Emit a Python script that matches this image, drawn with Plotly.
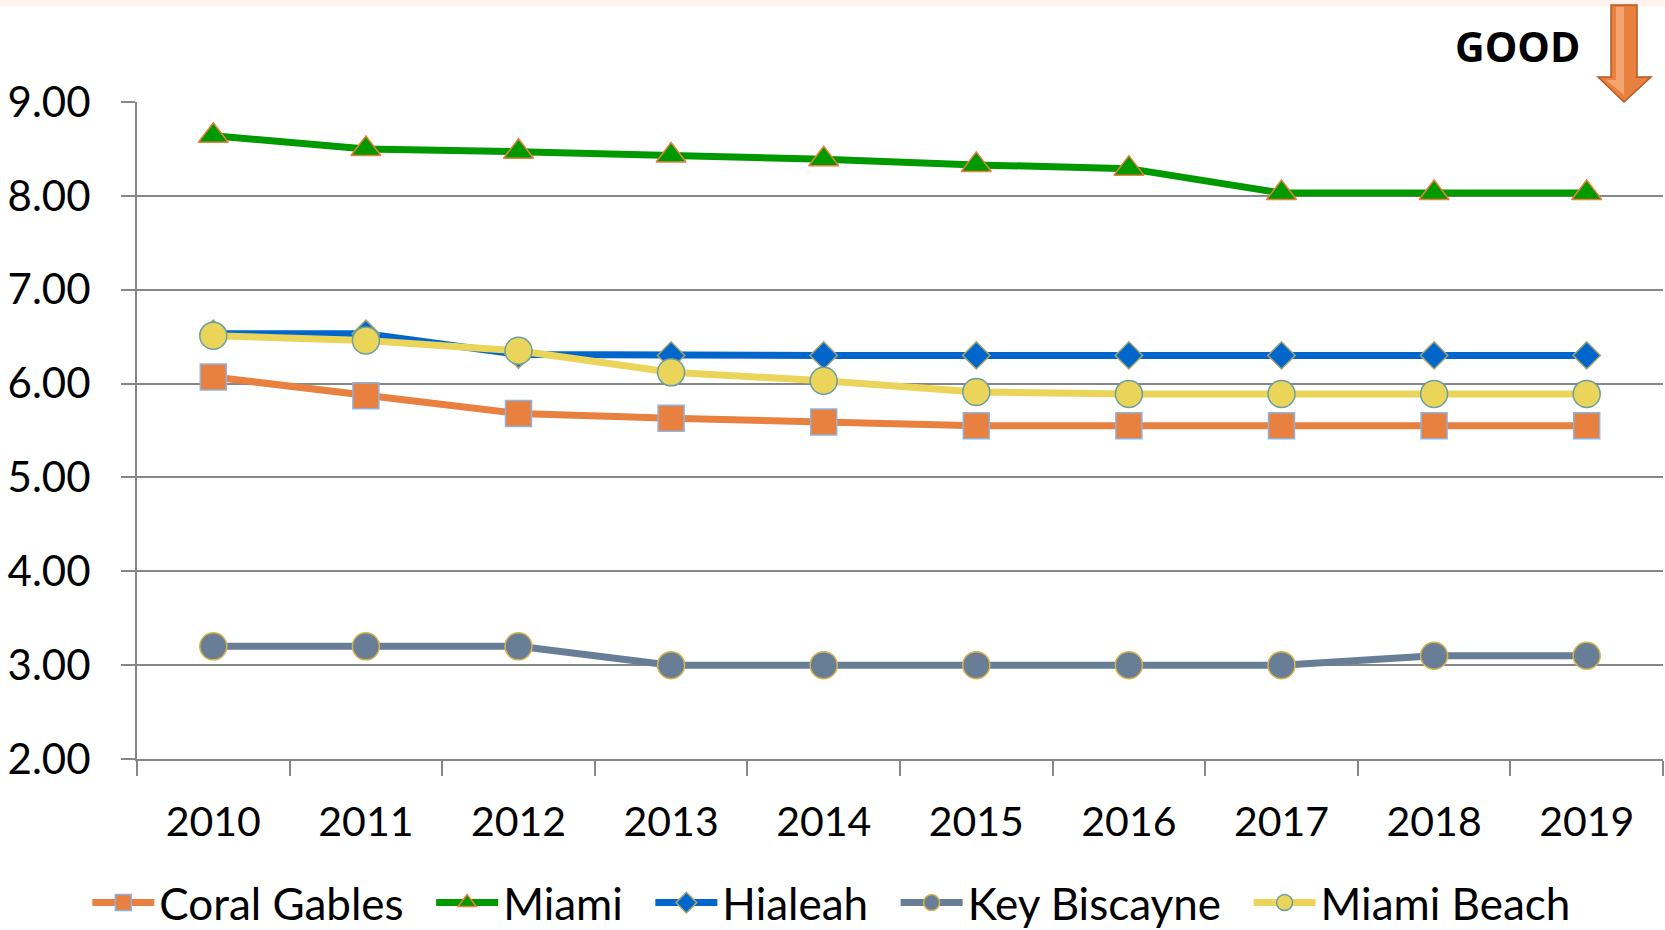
import plotly.graph_objects as go

years = ["2010", "2011", "2012", "2013", "2014", "2015", "2016", "2017", "2018", "2019"]
coral_gables = [6.07, 5.87, 5.68, 5.63, 5.59, 5.55, 5.55, 5.55, 5.55, 5.55]
miami = [8.64, 8.50, 8.47, 8.43, 8.39, 8.33, 8.29, 8.03, 8.03, 8.03]
hialeah = [6.53, 6.53, 6.31, 6.30, 6.30, 6.30, 6.30, 6.30, 6.30, 6.30]
key_biscayne = [3.20, 3.20, 3.20, 3.00, 3.00, 3.00, 3.00, 3.00, 3.10, 3.10]
miami_beach = [6.51, 6.46, 6.35, 6.12, 6.03, 5.91, 5.89, 5.89, 5.89, 5.89]
y_ticks = [2, 3, 4, 5, 6, 7, 8, 9]

FONT = "Lato"
GRID = "#878787"
PAD = "&nbsp;&nbsp;"

series = [
    ("Coral Gables", coral_gables, "#E8803F", "square", 26, "#8DB3E2"),
    ("Miami", miami, "#009900", "triangle-up", 26, "#E8803F"),
    ("Hialeah", hialeah, "#0066CC", "diamond", 21, "#A5A56B"),
    ("Key Biscayne", key_biscayne, "#687E96", "circle", 27, "#D9B44A"),
    ("Miami Beach", miami_beach, "#EAD55A", "circle", 27, "#6A9FA0"),
]

fig = go.Figure()
for i, (name, vals, color, symbol, size, outline) in enumerate(series):
    fig.add_trace(go.Scatter(
        x=years, y=vals, name=name + (PAD if i < len(series) - 1 else ""),
        mode="lines+markers",
        line=dict(color=color, width=7),
        marker=dict(symbol=symbol, size=size, color=color,
                    line=dict(color=outline, width=1.5)),
    ))

fig.update_layout(
    width=1665, height=930,
    margin=dict(l=137, r=2, t=102, b=171),
    paper_bgcolor="white", plot_bgcolor="white",
    font=dict(family=FONT, size=41, color="black"),
    showlegend=True,
    legend=dict(orientation="h", x=0.455, xanchor="center",
                yref="container", y=1 - 903 / 930, yanchor="middle",
                font=dict(family=FONT, size=44, color="black"),
                itemwidth=62, tracegroupgap=0, bgcolor="rgba(0,0,0,0)"),
    xaxis=dict(type="category", tickson="boundaries", ticks="outside", ticklen=15,
               tickcolor=GRID, tickwidth=2, showline=True, linecolor=GRID, linewidth=2,
               showgrid=False, tickfont=dict(family=FONT, size=41), ticklabelstandoff=26,
               range=[-0.5, 9.5], fixedrange=True),
    yaxis=dict(range=[2, 9], tickvals=y_ticks, tickformat=".2f", ticks="outside",
               ticklen=14, tickcolor=GRID, tickwidth=2, showline=True, linecolor=GRID,
               linewidth=2, showgrid=True, gridcolor=GRID, gridwidth=2, zeroline=False,
               tickfont=dict(family=FONT, size=42), ticklabelstandoff=22, fixedrange=True),
)

def px(x):
    return (x - 137) / 1526

def py(y):
    return (759 - y) / 657

# peach band at top
fig.add_shape(type="rect", xref="paper", yref="paper", x0=px(-5), x1=px(1670),
              y0=py(6), y1=py(-5), fillcolor="#FEF3EE",
              line=dict(width=0), layer="below")

# GOOD label and arrow
fig.add_annotation(xref="paper", yref="paper", x=px(1517), y=py(46),
                   text="<b>GOOD</b>", showarrow=False, xanchor="center", yanchor="middle",
                   font=dict(family="Open Sans", size=41, color="black"))

arrow = (f"M {px(1611)} {py(5)} L {px(1637)} {py(5)} L {px(1637)} {py(77)} "
         f"L {px(1651)} {py(77)} L {px(1624)} {py(102)} L {px(1598)} {py(77)} "
         f"L {px(1611)} {py(77)} Z")
fig.add_shape(type="path", xref="paper", yref="paper", path=arrow,
              fillcolor="#E8803F", line=dict(color="#B35A22", width=1.5))
highlight = (f"M {px(1616)} {py(7)} L {px(1624)} {py(7)} L {px(1624)} {py(95)} "
             f"L {px(1606)} {py(80)} L {px(1616)} {py(80)} Z")
fig.add_shape(type="path", xref="paper", yref="paper", path=highlight,
              fillcolor="#F4A46E", line=dict(width=0))

fig.write_html("out.html", config={"displayModeBar": False},
               post_script="document.body.style.margin='0';document.body.style.overflow='hidden';")
